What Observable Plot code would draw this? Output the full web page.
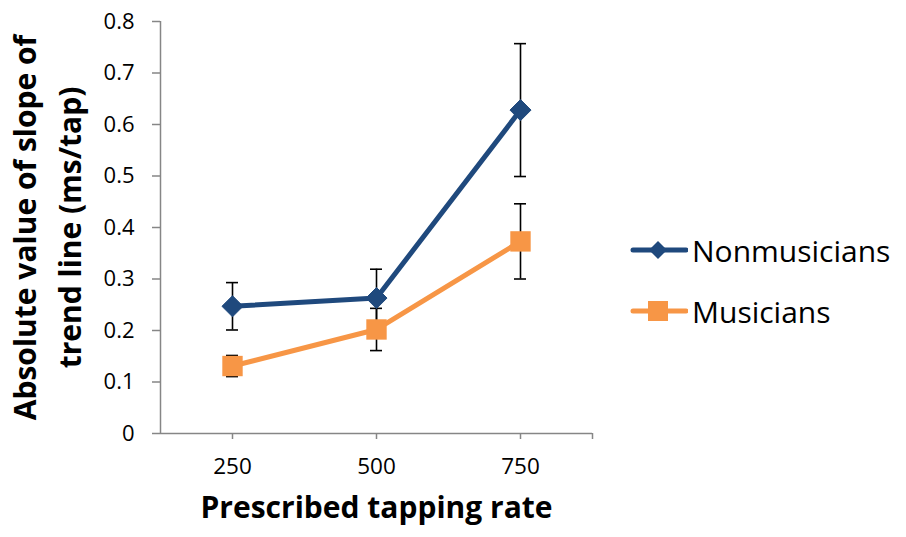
<!DOCTYPE html>
<html>
<head>
<meta charset="utf-8">
<script src="https://cdn.jsdelivr.net/npm/d3@7"></script>
<script src="https://cdn.jsdelivr.net/npm/@observablehq/plot@0.6"></script>
<style>
  html, body { margin: 0; padding: 0; background: #fff; }
  #wrap { position: relative; width: 906px; height: 537px; font-family: "Open Sans", sans-serif; }
  .leg { position: absolute; left: 630px; display: flex; align-items: center; font-size: 30px; color: #000; }
  .leg svg { margin-right: 4px; }
</style>
</head>
<body>
<div id="wrap"></div>
<script>
// ---- data ----
const rates = [250, 500, 750];
const seriesNames = ["Nonmusicians", "Musicians"];
const nonmusicians = [0.247, 0.263, 0.628];
const nonmusiciansErr = [0.046, 0.056, 0.129];
const musicians = [0.131, 0.202, 0.373];
const musiciansErr = [0.0205, 0.041, 0.073];
const colors = ["#1F497D", "#F79646"];
const yTicks = [0, 0.1, 0.2, 0.3, 0.4, 0.5, 0.6, 0.7, 0.8];
const xDomain = [125, 875];
const xTicks = [250, 500, 750, 875];
const xLabel = "Prescribed tapping rate";
const yLabel = "Absolute value of slope of\ntrend line (ms/tap)";

const rows = [];
rates.forEach((r, i) => {
  rows.push({series: seriesNames[0], x: r, y: nonmusicians[i], e: nonmusiciansErr[i]});
  rows.push({series: seriesNames[1], x: r, y: musicians[i], e: musiciansErr[i]});
});
const nm = rows.filter(d => d.series === seriesNames[0]);
const mu = rows.filter(d => d.series === seriesNames[1]);

const gray = "#868686";
const chart = Plot.plot({
  width: 906,
  height: 537,
  marginLeft: 160,
  marginRight: 314,
  marginTop: 21,
  marginBottom: 104,
  style: {fontFamily: "Open Sans, sans-serif", background: "#fff"},
  x: {type: "linear", domain: xDomain, axis: null},
  y: {domain: [0, 0.8], axis: null},
  marks: [
    Plot.axisY({ticks: yTicks, tickSize: 8, tickPadding: 18, stroke: gray, fill: "black",
      strokeWidth: 1.5, fontSize: 22, label: null,
      tickFormat: d => d === 0 ? "0" : d3.format(".1f")(d)}),
    Plot.axisX({ticks: xTicks, tickSize: 6, tickPadding: 19, stroke: gray, fill: "black",
      strokeWidth: 1.5, fontSize: 22.5, label: null,
      tickFormat: d => rates.includes(d) ? String(d) : ""}),
    Plot.ruleY([0], {stroke: gray, strokeWidth: 1.5}),
    Plot.ruleX([xDomain[0]], {stroke: gray, strokeWidth: 1.5}),
    // error bars
    Plot.ruleX(rows, {x: "x", y1: d => d.y - d.e, y2: d => d.y + d.e, stroke: "#000", strokeWidth: 1.6}),
    Plot.ruleY(rows, {x1: "x", x2: "x", y: d => d.y + d.e, insetLeft: -6, insetRight: -6, stroke: "#000", strokeWidth: 1.6}),
    Plot.ruleY(rows, {x1: "x", x2: "x", y: d => d.y - d.e, insetLeft: -6, insetRight: -6, stroke: "#000", strokeWidth: 1.6}),
    // Nonmusicians
    Plot.line(nm, {x: "x", y: "y", stroke: colors[0], strokeWidth: 5}),
    Plot.dot(nm, {x: "x", y: "y", symbol: "diamond2", r: 9.5, fill: colors[0], stroke: colors[0], strokeWidth: 1}),
    // Musicians
    Plot.line(mu, {x: "x", y: "y", stroke: colors[1], strokeWidth: 5}),
    Plot.dot(mu, {x: "x", y: "y", symbol: "square", r: 11.5, fill: colors[1]}),
    // axis titles
    Plot.text([xLabel], {frameAnchor: "bottom", dy: 84, text: d => d, fontSize: 30, fontWeight: "bold", fill: "#000"}),
    Plot.text([yLabel], {frameAnchor: "left", dx: -116, rotate: -90, textAnchor: "middle", lineAnchor: "middle",
      text: d => d, fontSize: 30, fontWeight: "bold", lineHeight: 1.5, fill: "#000"})
  ]
});
const wrap = document.getElementById("wrap");
wrap.appendChild(chart);

// legend
const legTops = [250, 311];
seriesNames.forEach((name, i) => {
  const div = document.createElement("div");
  div.className = "leg";
  div.style.top = (legTops[i] - 22) + "px";
  const sym = i === 0
    ? `<path d="M28,13 L37,22 L28,31 L19,22 Z" fill="${colors[0]}"/>`
    : `<rect x="18" y="12" width="20" height="20" fill="${colors[1]}"/>`;
  div.innerHTML = `<svg width="58" height="44"><line x1="3" x2="56" y1="22" y2="22" stroke="${colors[i]}" stroke-width="5" stroke-linecap="round"/>${sym}</svg><span>${name}</span>`;
  wrap.appendChild(div);
});
</script>
</body>
</html>
